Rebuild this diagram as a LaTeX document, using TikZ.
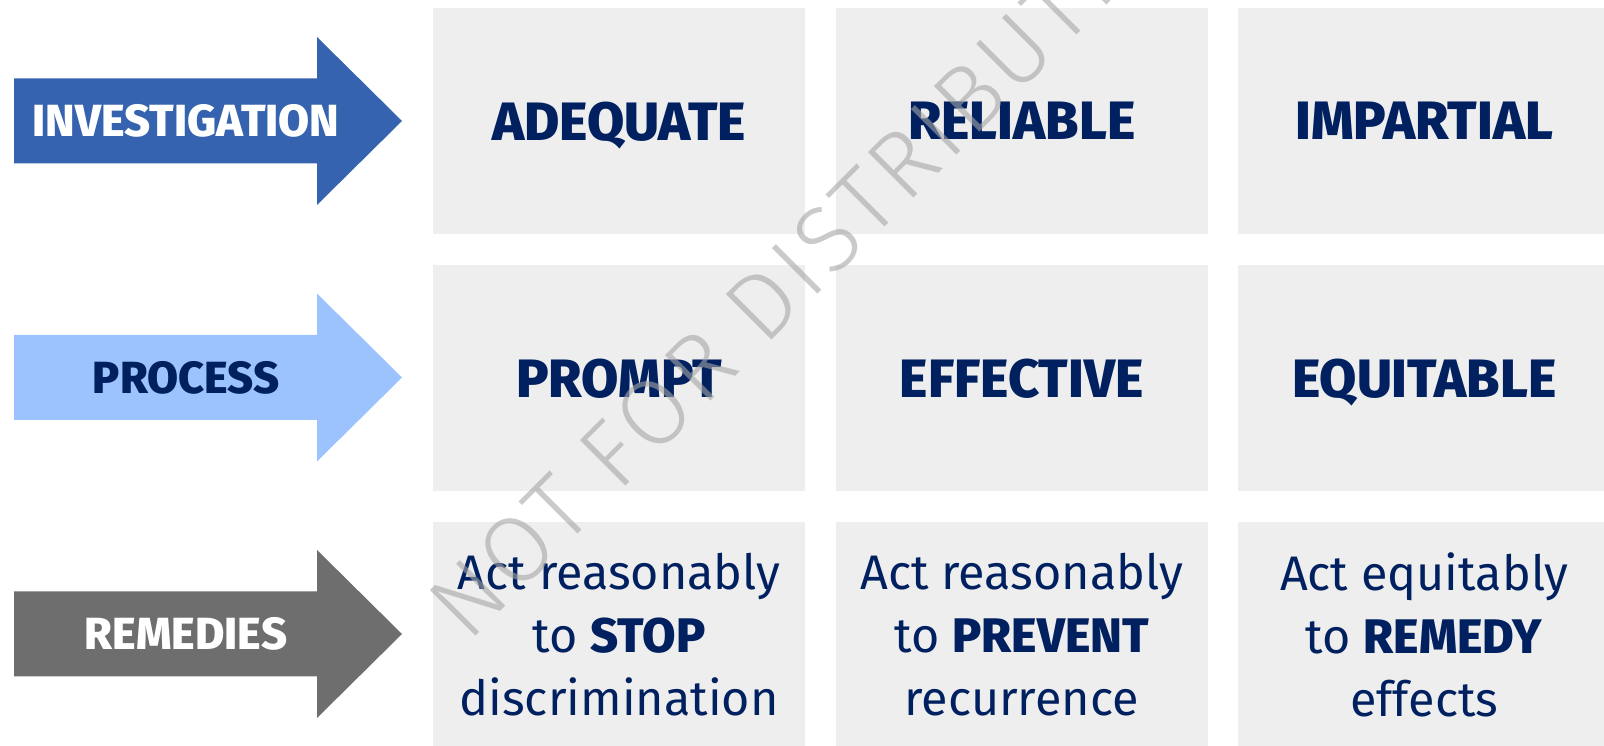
\documentclass[tikz,border=0pt]{standalone}
\usepackage{fontspec}
\setmainfont{Fira Sans}[BoldFont={Fira Sans ExtraBold}]
\newfontfamily\wmfont{Fira Sans Light}[LetterSpace=5.5]
\usetikzlibrary{positioning}
\definecolor{navy}{HTML}{002060}
\definecolor{cellgray}{HTML}{EEEEEE}
\definecolor{invblue}{HTML}{3563AF}
\definecolor{procblue}{HTML}{9DC3FF}
\definecolor{remgray}{HTML}{6E6E6E}

\begin{document}
\begin{tikzpicture}[x=1pt, y=1pt,
   cell/.style={rectangle, fill=cellgray, minimum width=372pt, minimum height=226pt, inner sep=0pt, text=navy, align=center},
   head/.style={cell, text depth=0pt, font=\fontsize{54}{60}\selectfont\bfseries},
   body/.style={cell, font=\fontsize{48.5}{63}\selectfont},
   tag/.style={font=\fontsize{45}{50}\selectfont\bfseries, inner sep=0pt},
   wm/.style={font=\fontsize{94}{100}\selectfont\wmfont, text=black!35, text opacity=0.6, inner sep=0pt}]
   \useasboundingbox (0,0) rectangle (1604,746);
   \clip (0,0) rectangle (1604,746);
   \foreach \y/\c in {625/invblue, 368.5/procblue, 112/remgray}
      \fill[\c] (14,\y-42.5) -- (317,\y-42.5) -- (317,\y-84) -- (402,\y) -- (317,\y+84) -- (317,\y+42.5) -- (14,\y+42.5) -- cycle;
   \node[tag, text=white] (investigation) at (186,625) {INVESTIGATION};
   \node[tag, text=navy] (process) at (186,368.5) {PROCESS};
   \node[tag, text=white] (remedies) at (186,112) {REMEDIES};

   \node[head] (adequate) at (619,625) {ADEQUATE};
   \node[head, right=30.25pt of adequate] (reliable) {RELIABLE};
   \node[head, right=30.25pt of reliable] (impartial) {IMPARTIAL};
   \node[head, below=30.5pt of adequate] (prompt) {PROMPT};
   \node[head, right=30.25pt of prompt] (effective) {EFFECTIVE};
   \node[head, right=30.25pt of effective] (equitable) {EQUITABLE};
   \node[body, below=30.5pt of prompt] (stop) {Act reasonably\\to \textbf{STOP}\\discrimination};
   \node[body, right=30.25pt of stop] (prevent) {Act reasonably\\to \textbf{PREVENT}\\recurrence};
   \node[body, right=30.25pt of prevent] (remedy) {Act equitably\\to \textbf{REMEDY}\\effects};

   \node[wm, anchor=base west, rotate=45] (watermark) at (468,102) {NOT FOR DISTRIBUTION};
\end{tikzpicture}
\end{document}
